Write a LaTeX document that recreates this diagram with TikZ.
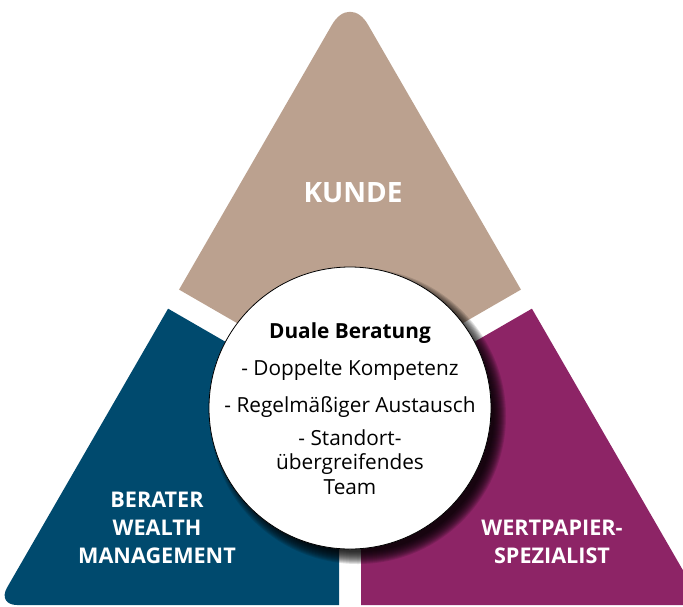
\documentclass[tikz,border=0pt]{standalone}
\usepackage{fontspec}
\setmainfont{Open Sans}
\usepackage{tikz}

\definecolor{kundeTan}{RGB}{187,161,143}
\definecolor{beraterBlue}{RGB}{0,74,110}
\definecolor{wpPurple}{RGB}{141,36,102}

% outer triangle, rounded at the apex more than at the base
\newcommand{\triPath}{(350,605) [rounded corners=20pt] -- (-3,605) -- (173.5,299.25) [rounded corners=36pt] -- (350,-6.5) -- (526.5,299.25) [rounded corners=20pt] -- (703,605) -- cycle}

\begin{document}
\begin{tikzpicture}[
    x=1pt, y=-1pt,
    core/.style={circle, draw=black, line width=0.8pt, fill=white, minimum size=282pt, inner sep=0pt},
    shade ring/.style={fill=black, opacity=0.12},
    headline/.style={font=\fontsize{20.8}{25}\selectfont\bfseries, text=black, anchor=base},
    point/.style={font=\fontsize{20.8}{24.5}\selectfont, text=black, anchor=base, align=center},
    sideLabel/.style={font=\fontsize{21.6}{28}\selectfont\bfseries, text=white, align=center},
    topLabel/.style={font=\fontsize{28}{32}\selectfont\bfseries, text=white}
]

\useasboundingbox (0,0) rectangle (683,606);

% Kunde - top
\begin{scope}
  \clip (350,388.3) -- (3.6,188.3) -- (3.6,-50) -- (696.4,-50) -- (696.4,188.3) -- cycle;
  \fill[kundeTan] \triPath;
\end{scope}

% Berater - bottom left
\begin{scope}
  \clip (339,407.35) -- (-7.4,207.35) -- (-50,207.35) -- (-50,650) -- (339,650) -- cycle;
  \fill[beraterBlue] \triPath;
\end{scope}

% Wertpapier - bottom right
\begin{scope}
  \clip (361,407.35) -- (707.4,207.35) -- (750,207.35) -- (750,650) -- (361,650) -- cycle;
  \fill[wpPurple] \triPath;
\end{scope}

% Shadow of the circle
\foreach \r in {0,...,12}
  \fill[shade ring] (358,416) circle (136+\r);

% Centre circle
\node[core] (core) at (350,408) {};

\node[headline] (duale) at (350,338) {Duale Beratung};
\node[point] (kompetenz) at (350,375) {- Doppelte Kompetenz};
\node[point] (austausch) at (350,412) {- Regelmäßiger Austausch};
\node[point, anchor=center] (team) at (350,462) {- Standort-\\übergreifendes\\Team};

% Labels
\node[topLabel] (kunde) at (353,192.5) {KUNDE};
\node[sideLabel] (berater) at (157,528) {BERATER\\WEALTH\\MANAGEMENT};
\node[sideLabel] (spezialist) at (552,542) {WERTPAPIER-\\SPEZIALIST};

\end{tikzpicture}
\end{document}
